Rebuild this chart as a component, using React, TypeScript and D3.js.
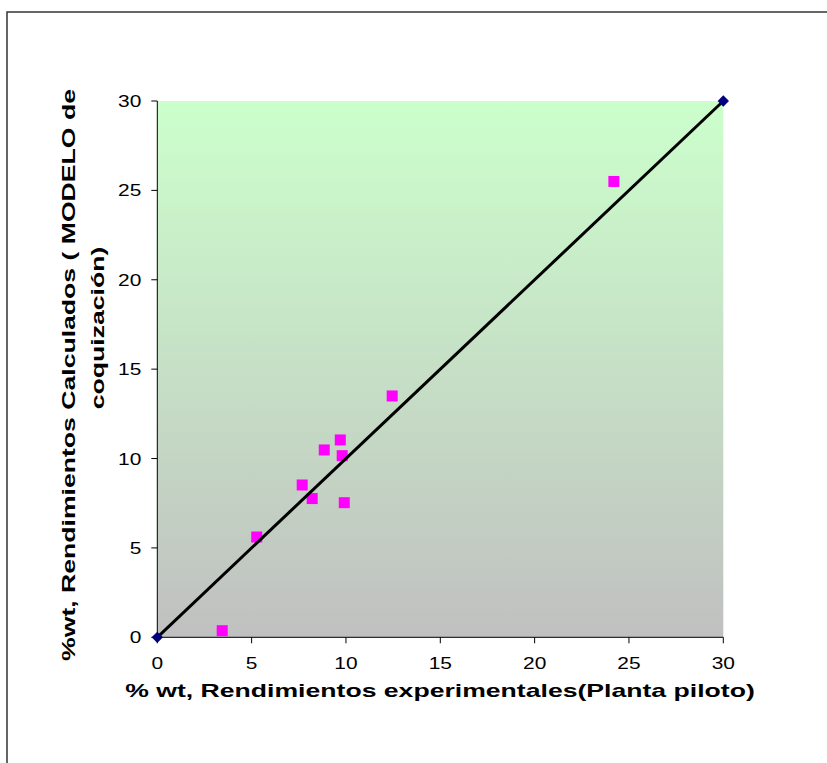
import React from "react";
import * as d3 from "d3";

const expX = [3.44, 5.27, 7.68, 8.21, 8.85, 9.7, 9.8, 9.91, 12.45, 24.2];
const calcY = [0.37, 5.61, 8.52, 7.76, 10.48, 11.04, 10.16, 7.53, 13.5, 25.5];
const lineX = [0, 30];
const lineY = [0, 30];
const ticks = [0, 5, 10, 15, 20, 25, 30];
const xTitle = "% wt, Rendimientos experimentales(Planta piloto)";
const yTitle1 = "%wt, Rendimientos Calculados ( MODELO de";
const yTitle2 = "coquización)";

export default function App() {
  const W = 827, H = 763;
  const left = 157.3, right = 723.3, top = 101, bottom = 637.3;
  const x = d3.scaleLinear().domain([0, 30]).range([left, right]);
  const y = d3.scaleLinear().domain([0, 30]).range([bottom, top]);
  const line = d3.line<number>().x((d, i) => x(lineX[i])).y((d, i) => y(lineY[i]));
  const font = "'Liberation Sans', Arial, sans-serif";
  const ms = 11;
  const sx = 1.23;
  const st = 1.4;
  return (
    <svg width={W} height={H} style={{ position: "absolute", left: 0, top: 0 }}>
      <defs>
        <linearGradient id="bg" x1="0" y1="0" x2="0" y2="1">
          <stop offset="0" stopColor="#ccffcc" />
          <stop offset="1" stopColor="#c0c0c0" />
        </linearGradient>
      </defs>
      <rect x={0} y={0} width={W} height={H} fill="#fff" />
      <rect x={7} y={12} width={W + 10} height={H + 10} fill="none" stroke="#333" strokeWidth={1.5} />
      <rect x={left} y={top} width={right - left} height={bottom - top} fill="url(#bg)" />
      <line x1={left} x2={left} y1={top} y2={bottom} stroke="#000" strokeWidth={1} />
      <line x1={left} x2={right} y1={bottom} y2={bottom} stroke="#000" strokeWidth={1} />
      {ticks.map((t) => (
        <g key={"x" + t}>
          <line x1={x(t)} x2={x(t)} y1={bottom} y2={bottom + 6} stroke="#000" />
          <text transform={`translate(${x(t)},${bottom + 32}) scale(${sx},1)`} textAnchor="middle" fontFamily={font} fontSize={17}>{t}</text>
        </g>
      ))}
      {ticks.map((t) => (
        <g key={"y" + t}>
          <line x1={left - 6} x2={left} y1={y(t)} y2={y(t)} stroke="#000" />
          <text transform={`translate(${left - 16},${y(t) + 6}) scale(${sx},1)`} textAnchor="end" fontFamily={font} fontSize={17}>{t}</text>
        </g>
      ))}
      {expX.map((v, i) => (
        <rect key={i} x={x(v) - ms / 2} y={y(calcY[i]) - ms / 2} width={ms} height={ms} fill="#ff00ff" />
      ))}
      <path d={line(lineX) || ""} fill="none" stroke="#000" strokeWidth={3} />
      {lineX.map((v, i) => (
        <rect key={"d" + i} x={x(v) - 4} y={y(lineY[i]) - 4} width={8} height={8} fill="#000080"
          transform={`rotate(45 ${x(v)} ${y(lineY[i])})`} />
      ))}
      <text transform={`translate(440,697) scale(${st},1)`} textAnchor="middle" fontFamily={font} fontSize={19} fontWeight="bold">{xTitle}</text>
      <text transform={`translate(75,375) rotate(-90) scale(${st},1)`} textAnchor="middle" fontFamily={font} fontSize={19} fontWeight="bold">{yTitle1}</text>
      <text transform={`translate(104,328) rotate(-90) scale(${st},1)`} textAnchor="middle" fontFamily={font} fontSize={19} fontWeight="bold">{yTitle2}</text>
    </svg>
  );
}
